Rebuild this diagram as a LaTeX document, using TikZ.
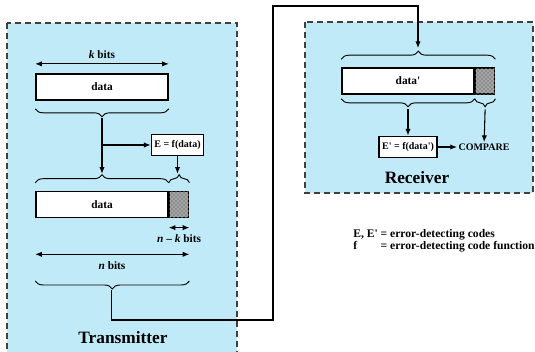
\documentclass[tikz,border=0pt]{standalone}
\usepackage{fontspec}
\setmainfont{Liberation Serif}
\usetikzlibrary{arrows.meta,decorations.pathreplacing,patterns}
\definecolor{sideblue}{RGB}{193,234,249}

\begin{document}
\begin{tikzpicture}[x=0.75pt,y=-0.75pt,
  every node/.style={font=\bfseries\fontsize{8.5}{10}\selectfont},
  side/.style={draw=black!75,line width=1pt,dash pattern=on 4.5pt off 3pt,fill=sideblue},
  field/.style={draw,line width=1.2pt,fill=white,minimum width=99pt,minimum height=19.5pt,inner sep=0pt},
  check/.style={draw,line width=1.2pt,fill=black!45,postaction={pattern=crosshatch dots,pattern color=white},minimum width=14.25pt,minimum height=19.5pt,inner sep=0pt},
  fun/.style={draw,line width=1.2pt,fill=white,inner sep=2.2pt,minimum height=16pt,font=\bfseries\fontsize{7.5}{9}\selectfont},
  brace/.style={decorate,decoration={brace,amplitude=6pt},line width=0.7pt},
  arr/.style={-{Latex[length=5pt,width=4pt]},line width=0.8pt},
  dim/.style={{Latex[length=5pt,width=4pt]}-{Latex[length=5pt,width=4pt]},line width=0.8pt},
  title/.style={font=\bfseries\fontsize{13}{15}\selectfont}]
\useasboundingbox (0,0) rectangle (535,351);

% the two sides
\draw[side] (7,23) rectangle (237,355);
\draw[side] (305,22) rectangle (533,193);
\node[title] (tx) at (123,338) {Transmitter};
\node[title] (rx) at (417,178) {Receiver};

% transmitter
\node[field] (data) at (102,87) {data};
\node[fun] (code) at (177.5,145) {E = f(data)};
\node[field] (frame) at (102,204.5) {data};
\node[check,anchor=west] (fcs) at (frame.east) {};

\draw[dim] ([yshift=7pt]data.north west) -- ([yshift=7pt]data.north east);
\node (kbits) at ([yshift=14pt]data.north) {\textit{k} bits};
\draw[dim] ([yshift=-7pt]fcs.south west) -- ([yshift=-7pt]fcs.south east);
\node (nkbits) at ([yshift=-15pt]fcs.south) {\textit{n} -- \textit{k} bits};
\draw[dim] ([yshift=-27pt]frame.south west) -- ([yshift=-27pt]fcs.south east);
\node (nbits) at (112,266) {\textit{n} bits};

\draw[brace] ([yshift=-6pt]data.south east) -- ([yshift=-6pt]data.south west);
\draw[brace] ([yshift=6pt]frame.north west) -- ([yshift=6pt]frame.north east);
\draw[brace] ([yshift=6pt]fcs.north west) -- ([yshift=6pt]fcs.north east);
\draw[brace] ([yshift=-47pt]fcs.south east) -- ([yshift=-47pt]frame.south west);

\coordinate (s1) at ([yshift=-13pt]data.south);
\coordinate (s2) at ([yshift=12.75pt]frame.north);
\coordinate (s3) at (111.5,290);
\draw[arr] (s1) -- (s2);
\draw[arr] (s1 |- code) -- (code);
\draw[arr] (code) -- (code |- s2);

% channel
\coordinate (w1) at (273,320);
\coordinate (w2) at (273,6);
\coordinate (r1) at (418,48);
\draw[arr] (s3) |- (w1) |- (w2) -| (r1);

% receiver
\node[field] (rdata) at (408,81) {data\textquotesingle};
\node[check,anchor=west] (rfcs) at (rdata.east) {};
\node[fun] (rcode) at (408,147) {E\textquotesingle{} = f(data\textquotesingle)};
\node[font=\bfseries\fontsize{7.5}{9}\selectfont,inner sep=1pt] (compare) at (484,147) {COMPARE};

\draw[brace] ([yshift=6pt]rdata.north west) -- ([yshift=6pt]rfcs.north east);
\draw[brace] ([yshift=-3pt]rdata.south east) -- ([yshift=-3pt]rdata.south west);
\draw[brace] ([yshift=-3pt]rfcs.south east) -- ([yshift=-3pt]rfcs.south west);

\coordinate (r2) at ([yshift=-11pt]rdata.south);
\coordinate (r3) at ([yshift=-11pt]rfcs.south);
\draw[arr] (r2) -- (rcode);
\draw[arr] (rcode) -- (compare);
\draw[arr] (r3) -- (compare);

% legend
\node[anchor=west,font=\bfseries\fontsize{8.7}{9.5}\selectfont,inner sep=0pt] (legend) at (353,241)
  {\begin{tabular}{@{}l@{\ }l@{}}
   E, E\textquotesingle & = error-detecting codes\\
   f & = error-detecting code function
   \end{tabular}};
\end{tikzpicture}
\end{document}
